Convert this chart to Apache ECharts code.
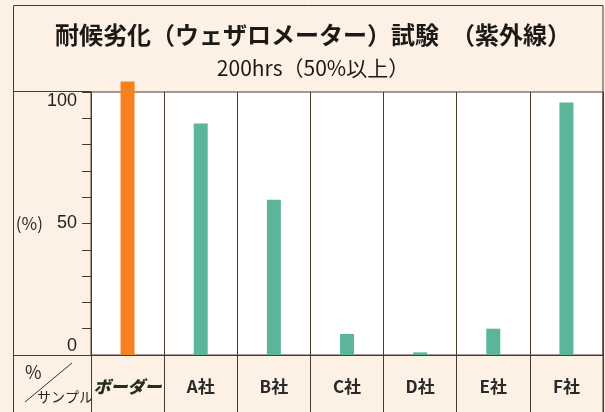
<!DOCTYPE html>
<html lang="ja">
<head>
  <meta charset="UTF-8">
  <title>耐候劣化試験</title>
  <style>
    html, body { margin: 0; padding: 0; background: #fdf0e5; }
    #chart { width: 605px; height: 412px; }
  </style>
</head>
<body>
  <div id="chart"></div>
  <script src="https://cdn.jsdelivr.net/npm/echarts@6/dist/echarts.min.js"></script>
  <script>
    // data
    const categories = ['ボーダー', 'A社', 'B社', 'C社', 'D社', 'E社', 'F社'];
    const values = [104, 88, 59, 8, 1, 10, 96];
    const yLabels = [0, 50, 100];
    const highlightIndex = 0;

    const lineColor = '#4a3b2c';
    const cjk = '"Noto Sans CJK JP", "Noto Sans", sans-serif';

    const chart = echarts.init(document.getElementById('chart'));

    const option = {
      animation: false,
      backgroundColor: '#fdf0e5',
      title: {
        text: '耐候劣化（ウェザロメーター）試験　（紫外線）',
        subtext: '200hrs（50%以上）',
        left: 308,
        top: 18,
        textAlign: 'center',
        itemGap: 11,
        textStyle: { fontFamily: cjk, fontSize: 24, fontWeight: 'bold', color: '#1c1a17' },
        subtextStyle: { fontFamily: cjk, fontSize: 21, fontWeight: 'normal', color: '#1c1a17' }
      },
      grid: {
        left: 91, right: 2, top: 92, bottom: 57,
        show: true,
        backgroundColor: '#ffffff',
        borderColor: lineColor,
        borderWidth: 1
      },
      xAxis: {
        type: 'category',
        data: categories,
        axisLine: { lineStyle: { color: lineColor, width: 1 } },
        axisTick: { show: true, interval: 0, length: 57, lineStyle: { color: lineColor } },
        splitLine: { show: true, interval: 0, lineStyle: { color: lineColor, width: 1 } },
        axisLabel: {
          interval: 0,
          margin: 23,
          fontFamily: cjk,
          fontSize: 17,
          fontWeight: 'bold',
          color: '#2a2a2a',
          formatter: (v, i) => i === highlightIndex ? '{hl|' + v + '}' : v,
          rich: {
            hl: { fontFamily: cjk, fontSize: 17, fontWeight: 900, color: '#233018', fontStyle: 'italic' }
          }
        }
      },
      yAxis: {
        type: 'value',
        min: 0,
        max: 100,
        interval: 10,
        name: '(%)',
        nameLocation: 'middle',
        nameRotate: 0,
        nameGap: 48,
        nameMoveOverlap: false,
        nameTextStyle: { fontFamily: cjk, fontSize: 17, color: '#2a2a2a' },
        axisLine: { show: true, lineStyle: { color: lineColor } },
        axisTick: { show: true, length: 9, lineStyle: { color: lineColor } },
        splitLine: { show: false },
        axisLabel: {
          margin: 14,
          fontFamily: '"Liberation Sans", Arial, sans-serif',
          fontSize: 18,
          color: '#222',
          verticalAlignMaxLabel: 'top',
          verticalAlignMinLabel: 'bottom',
          formatter: v => yLabels.includes(v) ? String(v) : ''
        }
      },
      series: [
        {
          type: 'bar',
          data: values,
          barWidth: 14,
          clip: false,
          z: 5,
          itemStyle: {
            color: p => p.dataIndex === highlightIndex ? '#f7811f' : '#5bb59a'
          }
        }
      ],
      graphic: [
        // outer frame and the cells of the left column
        { type: 'rect', z: 100, silent: true, shape: { x: 13.5, y: 5.5, width: 589.5, height: 420 },
          style: { fill: null, stroke: lineColor, lineWidth: 1 } },
        { type: 'line', z: 100, silent: true, shape: { x1: 13, y1: 91.5, x2: 91, y2: 91.5 },
          style: { stroke: lineColor, lineWidth: 1 } },
        { type: 'line', z: 100, silent: true, shape: { x1: 13, y1: 355.5, x2: 91, y2: 355.5 },
          style: { stroke: lineColor, lineWidth: 1 } },
        { type: 'line', z: 100, silent: true, shape: { x1: 25, y1: 402, x2: 72, y2: 363 },
          style: { stroke: '#333', lineWidth: 1 } },
        { type: 'text', z: 100, silent: true, x: 25, y: 363,
          style: { text: '%', fontFamily: cjk, fontSize: 18, fill: '#2a2a2a' } },
        { type: 'text', z: 100, silent: true, x: 37, y: 390,
          style: { text: 'サンプル', fontFamily: cjk, fontSize: 14, fill: '#2a2a2a' } }
      ]
    };

    chart.setOption(option);
  </script>
</body>
</html>
